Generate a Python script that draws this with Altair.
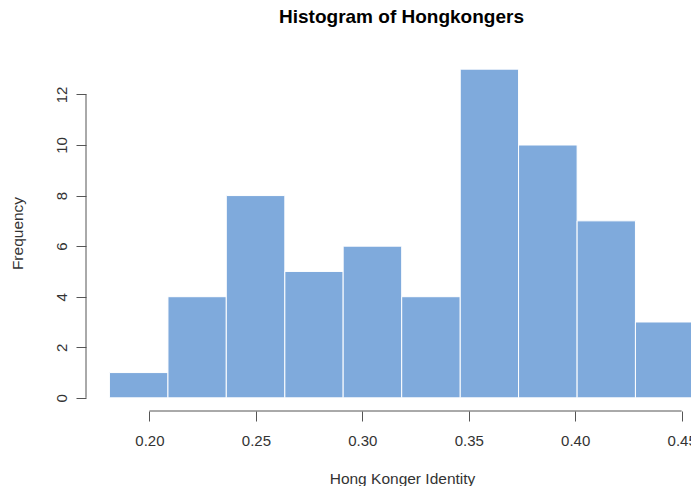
import altair as alt
import pandas as pd

# Histogram bin edges and counts
bin_start = [0.1812, 0.2087, 0.2361, 0.2636, 0.2910, 0.3185, 0.3460, 0.3734, 0.4009, 0.4283]
bin_end = [0.2087, 0.2361, 0.2636, 0.2910, 0.3185, 0.3460, 0.3734, 0.4009, 0.4283, 0.4558]
counts = [1, 4, 8, 5, 6, 4, 13, 10, 7, 3]

x_ticks = [0.20, 0.25, 0.30, 0.35, 0.40, 0.45]
y_ticks = [0, 2, 4, 6, 8, 10, 12]

df = pd.DataFrame({"start": bin_start, "end": bin_end, "count": counts,
                   "base": [0] * len(counts)})

W, H = 605, 355
FONT = "Liberation Sans"

xscale = alt.Scale(domain=[0.1702, 0.4544], nice=False, zero=False)
yscale = alt.Scale(domain=[-0.52, 13.52], nice=False, zero=False)

xaxis = alt.Axis(values=x_ticks, format=".2f", domain=False, grid=False,
                 tickSize=10, tickColor="#555555", tickWidth=1,
                 labelFont=FONT, labelFontSize=15, labelColor="#333333",
                 labelBaseline="top", labelPadding=12, labelFlush=False,
                 title="Hong Konger Identity", titleFont=FONT, titleFontSize=15.5,
                 titleFontWeight="normal", titleColor="#333333",
                 titleX=316, titleY=72, titleAlign="center",
                 titleBaseline="alphabetic")
yaxis = alt.Axis(values=y_ticks, domain=False, grid=False,
                 tickSize=10, tickColor="#555555", tickWidth=1,
                 labelFont=FONT, labelFontSize=15, labelColor="#333333",
                 labelAngle=270, labelAlign="center", labelBaseline="alphabetic",
                 labelPadding=10, labelFlush=False,
                 title="Frequency", titleFont=FONT, titleFontSize=15.5,
                 titleFontWeight="normal", titleColor="#333333",
                 titleAngle=270, titleX=-64, titleY=177, titleAlign="center",
                 titleBaseline="alphabetic")

bars = alt.Chart(df).mark_rect(color="#7FAADC", stroke="white", strokeWidth=1, clip=True).encode(
    x=alt.X("start:Q", scale=xscale, axis=xaxis),
    x2="end:Q",
    y=alt.Y("base:Q", scale=yscale, axis=yaxis),
    y2="count:Q",
)

xaxis_df = pd.DataFrame({"start": [x_ticks[0]], "end": [x_ticks[-1]]})
xline = alt.Chart(xaxis_df).mark_rule(color="#555555", strokeWidth=1).encode(
    x=alt.X("start:Q", scale=xscale, axis=xaxis),
    x2="end:Q",
    y=alt.value(H),
)

yaxis_df = pd.DataFrame({"base": [y_ticks[0]], "count": [y_ticks[-1]]})
yline = alt.Chart(yaxis_df).mark_rule(color="#555555", strokeWidth=1).encode(
    y=alt.Y("base:Q", scale=yscale, axis=yaxis),
    y2="count:Q",
    x=alt.value(0),
)

chart = alt.layer(bars, xline, yline).properties(
    width=W, height=H,
    title=alt.TitleParams("Histogram of Hongkongers", font=FONT, fontSize=19,
                          fontWeight="bold", color="black", anchor="middle",
                          dx=13, offset=14, baseline="alphabetic", frame="group"),
    padding={"left": 78, "top": 48, "right": 0, "bottom": 78},
    autosize=alt.AutoSizeParams(type="none"),
).configure_view(stroke=None)

chart.save("out.html", embed_options={"renderer": "svg", "actions": False})
